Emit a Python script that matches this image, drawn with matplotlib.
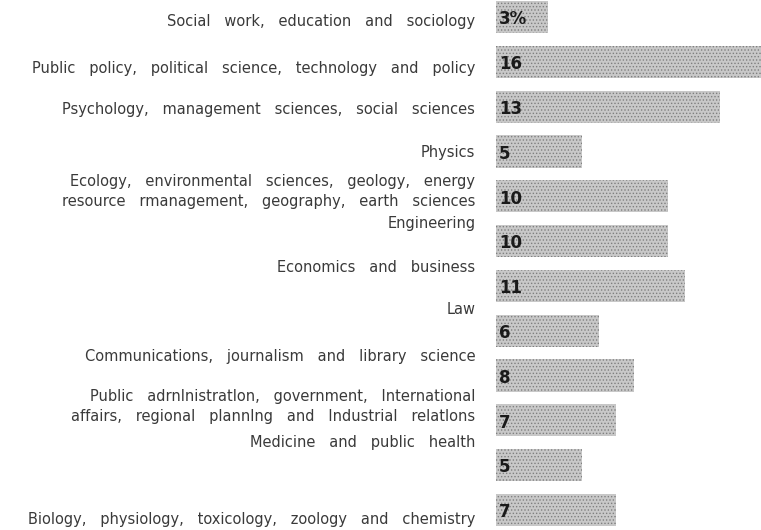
import matplotlib.pyplot as plt

# disciplines, top to bottom
categories = [
    "Social work, education and sociology",
    "Public policy, political science, technology and policy",
    "Psychology, management sciences, social sciences",
    "Physics",
    "Ecology, environmental sciences, geology, energy\nresource rmanagement, geography, earth sciences",
    "Engineering",
    "Economics and business",
    "Law",
    "Communications, journalism and library science",
    "Public adrnlnistratlon, government, International\naffairs, regional plannlng and Industrial relatlons",
    "Medicine and public health",
    "Biology, physiology, toxicology, zoology and chemistry",
]
percent = [3, 16, 13, 5, 10, 10, 11, 6, 8, 7, 5, 7]
value_labels = ["3%", "16", "13", "5", "10", "10", "11", "6", "8", "7", "5", "7"]
# labels in the scan do not sit exactly on their bars
label_shift = [0.1, 0.15, 0.07, 0.02, -0.1, -0.4, -0.42, -0.47, -0.42, -0.31, -0.51, 0.22]

plt.rcParams['hatch.color'] = '#7f7f7f'
plt.rcParams['hatch.linewidth'] = 0.6

fig = plt.figure(figsize=(7.61, 5.30), dpi=100)
ax = fig.add_axes([496 / 761, 0, 265 / 761, 1])

ypos = list(range(len(categories)))
ax.barh(ypos, percent, height=0.72, color='#c8c8c8', hatch='.....', linewidth=0)

for y, lab in zip(ypos, value_labels):
    ax.text(0.18, y + 0.05, lab, ha='left', va='center', fontsize=12,
            fontweight='bold', family='DejaVu Sans', color='#1a1a1a')

for y, cat, dy in zip(ypos, categories, label_shift):
    ax.text(-1.2, y + dy, cat.replace(' ', '   '), ha='right', va='center',
            fontsize=10.5, family='DejaVu Sans', color='#3a3a3a', linespacing=1.4,
            clip_on=False)

ax.set_xlim(0, 265 / 17.2)
ax.set_ylim(11 + 20 / 44.8, -17 / 44.8)
ax.axis('off')

fig.savefig('out.png', dpi=100)
